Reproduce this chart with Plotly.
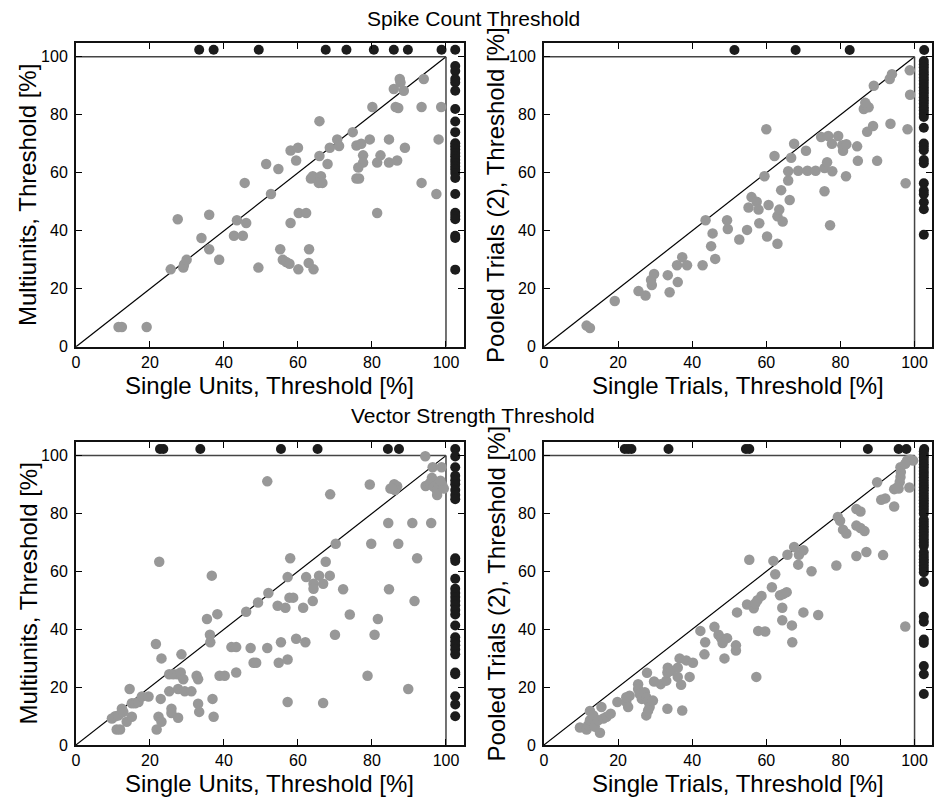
import plotly.graph_objects as go

# ---------------- data ----------------
# Panel A: Spike count, Single Units (x) vs Multiunits (y)
a_x = [11.5, 12.4, 19.1, 25.6, 27.5, 29.0, 29.2, 29.9, 33.9, 36.0, 36.0, 38.7, 42.7, 43.5, 45.1, 46.0,
       45.6, 49.3, 51.4, 52.7, 54.7, 55.2, 55.9, 56.8, 57.7, 58.0, 60.0, 59.5, 58.0, 60.2, 62.2, 60.1,
       63.0, 62.9, 64.2, 63.5, 64.0, 66.2, 65.6, 66.6, 65.8, 65.8, 68.0, 68.6, 70.6, 71.1, 74.8, 75.8,
       77.1, 77.6, 77.6, 76.3, 75.8, 76.5, 79.4, 80.1, 81.4, 82.3, 81.4, 84.6, 84.6, 85.9, 86.4, 87.1,
       86.8, 87.5, 87.7, 88.6, 88.9, 93.4, 94.0, 93.4, 97.4, 98.0, 98.7]
a_y = [6.8, 6.8, 6.8, 26.7, 44.0, 27.3, 28.4, 30.0, 37.5, 45.5, 33.6, 30.0, 38.3, 43.6, 38.3, 42.7,
       56.5, 27.3, 63.0, 52.7, 61.3, 33.6, 30.0, 29.2, 28.6, 67.7, 68.6, 64.2, 42.7, 46.1, 46.1, 26.7,
       33.6, 28.9, 26.7, 58.0, 58.8, 58.8, 56.5, 56.5, 77.8, 65.8, 63.0, 68.6, 71.5, 69.2, 74.0, 69.4,
       70.0, 66.0, 63.5, 61.8, 58.0, 58.0, 71.5, 82.7, 63.5, 66.0, 46.1, 71.5, 63.5, 88.9, 82.7, 82.3,
       64.2, 92.3, 91.1, 88.3, 68.6, 82.7, 92.3, 56.5, 52.7, 71.5, 82.7]
a_top_x = [33.3, 37.2, 49.4, 67.5, 73.1, 80.5, 85.9, 89.7, 98.8, 102.5]
a_top_y = [102.4, 102.4, 102.4, 102.4, 102.4, 102.4, 102.4, 102.4, 102.4, 102.4]
a_side_y = [96.8, 95.1, 92.3, 91.1, 88.3, 82.0, 77.7, 74.0, 70.2, 69.1, 68.0, 66.8, 65.7, 64.5,
            63.4, 62.2, 61.1, 59.9, 58.2, 52.7, 46.2, 45.1, 44.0, 38.3, 37.5, 26.6]

# Panel B: Spike count, Single Trials (x) vs Pooled Trials (2) (y)
b_x = [11.5, 12.4, 19.1, 25.5, 27.4, 29.1, 28.9, 29.7, 33.4, 33.9, 36.1, 35.9, 37.3, 38.6, 42.8, 43.6,
       45.1, 45.5, 46.2, 49.4, 49.6, 52.7, 54.8, 55.2, 56.0, 57.4, 57.9, 58.1, 59.5, 60.0, 60.6, 60.2,
       62.2, 63.0, 63.5, 64.4, 63.0, 64.0, 66.3, 65.9, 65.9, 66.7, 67.5, 68.6, 70.7, 71.1, 73.3, 74.8,
       76.7, 75.7, 76.4, 77.7, 77.8, 75.7, 77.2, 79.4, 80.5, 80.7, 81.6, 81.5, 84.5, 84.7, 86.3, 87.0,
       87.6, 86.7, 87.2, 88.8, 89.9, 89.0, 93.3, 93.9, 93.5, 98.1, 97.6, 98.7, 98.8]
b_y = [7.3, 6.5, 15.8, 19.2, 17.7, 21.3, 23.0, 25.1, 24.7, 18.8, 22.3, 28.1, 30.9, 28.1, 28.1, 43.6,
       34.7, 39.1, 30.3, 43.6, 40.6, 37.0, 40.3, 48.0, 51.6, 50.0, 47.3, 42.6, 58.8, 75.0, 48.9, 38.0,
       65.8, 45.0, 47.3, 43.2, 35.5, 54.0, 50.6, 57.3, 60.5, 65.2, 70.0, 60.7, 67.6, 60.7, 60.7, 72.3,
       72.7, 61.6, 63.6, 70.0, 60.5, 53.6, 41.9, 72.7, 69.5, 67.6, 69.8, 58.8, 69.1, 64.1, 82.0, 83.2,
       82.6, 84.1, 74.1, 76.1, 64.1, 90.0, 92.3, 94.0, 76.9, 75.0, 56.4, 95.3, 86.9]
b_top_x = [51.4, 67.9, 82.5, 102.6]
b_top_y = [102.3, 102.3, 102.3, 102.3]
b_side_y = [98.5, 97.4, 96.3, 95.1, 94.0, 92.8, 91.7, 90.6, 89.4, 88.3, 87.2, 86.0, 84.9, 83.8, 82.6,
            81.5, 80.3, 79.2, 75.5, 70.1, 69.0, 67.8, 64.4, 63.3, 56.4, 53.8, 52.6, 49.8, 47.4, 38.6]

# Panel C: Vector strength, Single Units (x) vs Multiunits (y)
c_x = [9.7, 10.6, 11.5, 12.4, 12.8, 11.0, 11.9, 13.7, 15.1, 14.5, 15.1, 16.0, 16.9, 17.8, 19.6, 21.6,
       22.5, 23.1, 22.9, 22.3, 23.1, 21.8, 25.2, 26.3, 27.4, 28.5, 28.3, 29.0, 25.2, 27.6, 29.4, 31.2,
       25.8, 25.8, 27.6, 32.6, 33.0, 33.0, 33.3, 35.4, 36.2, 36.3, 36.7, 38.2, 36.9, 37.2, 38.8, 40.2,
       42.0, 43.3, 43.3, 46.0, 47.2, 48.0, 48.7, 49.2, 51.7, 51.7, 52.0, 54.5, 56.6, 54.8, 55.4, 57.2,
       57.2, 57.2, 57.9, 57.7, 58.7, 59.5, 61.4, 62.0, 62.2, 64.0, 64.2, 64.2, 65.7, 66.8, 66.8, 67.5,
       68.7, 68.6, 70.0, 70.2, 72.2, 74.0, 78.8, 79.4, 79.8, 80.7, 81.6, 84.4, 84.6, 85.0, 86.0, 86.8,
       86.2, 85.5, 87.1, 89.8, 90.9, 91.5, 92.2, 94.4, 94.5, 95.4, 96.2, 95.8, 96.7, 97.6, 97.6, 98.0,
       99.0, 99.4, 98.5, 96.4, 98.8, 96.0]
c_y = [9.1, 9.9, 10.2, 12.5, 11.4, 5.3, 5.3, 8.0, 9.7, 19.3, 14.4, 14.4, 14.8, 16.7, 16.7, 34.9,
       63.3, 29.9, 15.9, 9.7, 8.0, 5.3, 24.4, 24.4, 24.4, 31.3, 25.0, 22.7, 18.5, 19.3, 18.5, 18.5,
       12.5, 11.0, 9.4, 23.9, 22.7, 14.2, 11.4, 43.5, 38.1, 35.5, 58.5, 45.2, 15.9, 9.7, 23.9, 23.9,
       33.8, 33.8, 25.0, 46.0, 33.5, 28.4, 28.4, 49.2, 91.1, 33.5, 52.5, 48.1, 47.4, 28.4, 35.5, 58.0,
       29.5, 14.8, 64.5, 50.9, 50.9, 36.7, 47.4, 35.5, 58.0, 49.7, 55.7, 54.0, 58.5, 55.7, 14.5, 63.3,
       86.6, 58.5, 38.1, 69.5, 53.8, 45.1, 23.9, 90.0, 69.5, 38.1, 43.5, 76.7, 53.8, 88.6, 90.1, 89.4,
       88.1, 88.6, 69.5, 19.3, 76.7, 49.7, 64.5, 99.8, 89.5, 90.0, 92.3, 90.7, 89.2, 87.8, 86.4, 90.3,
       89.8, 88.6, 91.3, 96.0, 96.0, 76.7]
c_top_x = [22.7, 23.6, 33.6, 55.4, 65.3, 84.3, 87.3, 102.5]
c_top_y = [102.3, 102.3, 102.3, 102.3, 102.3, 102.3, 102.3, 102.3]
c_side_y = [99.7, 96.0, 93.0, 91.5, 90.1, 88.1, 86.4, 84.9, 64.5, 63.6, 57.4, 54.0, 52.5, 51.1, 49.7,
            48.3, 46.6, 45.1, 41.3, 37.2, 35.8, 34.4, 33.0, 31.3, 25.0, 24.4, 16.8, 14.0, 9.9]

# Panel D: Vector strength, Single Trials (x) vs Pooled Trials (2) (y)
d_x = [9.7, 11.5, 11.9, 12.4, 12.4, 13.3, 13.7, 14.6, 15.1, 15.5, 16.0, 16.9, 18.0, 19.8, 22.2, 22.7,
       23.1, 22.2, 25.4, 25.4, 25.8, 26.4, 27.2, 27.6, 28.1, 28.5, 27.6, 28.1, 29.4, 27.8, 29.7, 31.5,
       33.0, 33.3, 33.4, 34.3, 36.1, 36.6, 36.1, 37.0, 38.4, 40.2, 39.3, 33.3, 37.3, 42.2, 43.5, 43.3,
       46.0, 47.1, 47.8, 48.2, 49.4, 48.7, 51.8, 51.8, 52.1, 54.8, 56.6, 57.0, 57.6, 58.7, 55.4, 57.3,
       57.8, 59.7, 61.5, 61.9, 62.4, 63.7, 64.6, 65.5, 64.3, 64.3, 66.9, 67.0, 65.7, 67.5, 68.6, 68.8,
       70.0, 70.0, 72.2, 74.0, 78.9, 79.3, 79.9, 80.7, 81.6, 84.3, 85.4, 84.3, 85.4, 86.5, 84.3, 87.0,
       89.9, 91.0, 92.1, 91.5, 94.5, 94.5, 95.7, 96.2, 96.3, 96.2, 96.0, 95.3, 98.0, 98.8, 99.6, 97.5,
       98.6, 97.5]
d_y = [6.0, 5.3, 6.8, 8.5, 11.7, 10.2, 6.3, 8.5, 4.2, 13.1, 9.1, 9.7, 10.8, 14.8, 14.8, 13.1,
       17.0, 16.5, 21.0, 19.3, 17.6, 15.9, 18.2, 16.5, 15.1, 13.1, 10.2, 11.9, 15.3, 24.9, 21.9, 21.0,
       22.2, 25.0, 26.7, 25.6, 26.7, 29.9, 23.5, 20.8, 29.2, 28.4, 23.5, 12.5, 11.9, 39.4, 35.5, 31.3,
       40.8, 38.1, 36.9, 35.2, 36.9, 29.9, 34.4, 32.6, 45.8, 48.5, 47.2, 48.9, 50.0, 51.5, 64.0, 23.5,
       39.4, 39.2, 54.5, 63.6, 59.0, 51.7, 52.2, 52.8, 47.4, 43.1, 41.3, 35.5, 65.7, 68.4, 62.3, 65.7,
       67.3, 45.8, 60.0, 44.9, 62.0, 78.8, 77.5, 74.4, 73.1, 81.5, 80.7, 75.8, 75.0, 73.9, 65.3, 66.7,
       90.8, 84.7, 85.2, 65.6, 82.4, 88.4, 88.6, 96.0, 94.3, 92.6, 90.9, 89.0, 98.3, 98.6, 98.3, 97.2,
       89.0, 40.9]
d_top_x = [21.8, 22.7, 23.6, 33.6, 54.5, 55.4, 87.4, 95.7, 97.8, 102.6]
d_top_y = [102.3, 102.3, 102.3, 102.3, 102.3, 102.3, 102.3, 102.3, 102.3, 102.3]
d_side_y = [101.5, 100.4, 99.3, 98.1, 97.0, 95.9, 94.7, 93.6, 92.5, 91.3, 90.2, 89.1, 88.0, 86.8,
            85.7, 84.6, 83.4, 82.3, 81.2, 80.0, 77.8, 76.7, 75.6, 74.4, 73.3, 72.2, 71.0, 69.9, 68.8,
            66.5, 65.3, 64.2, 63.1, 61.9, 60.8, 59.7, 56.3, 44.3, 42.6, 36.4, 35.2, 27.3, 24.4, 17.6]

OFF = 102.5  # position of "no threshold" markers (outside 0-100 box)

tick_vals = [0, 20, 40, 60, 80, 100]
tick_text = ["0", "20", "40", "60", "80", "100"]

titles = ["Spike Count Threshold", "Vector Strength Threshold"]
x_titles = ["Single Units, Threshold [%]", "Single Trials, Threshold [%]"]
y_titles = ["Multiunits, Threshold [%]", "Pooled Trials (2), Threshold [%]"]

# ---------------- figure ----------------
W, H = 942, 806
GRAY = "#989898"
DARK = "#1c1c1c"
FONT = "Liberation Sans, Arial, sans-serif"

# pixel boxes of the four plot areas: (left, right, top, bottom)
boxes = [(72.3, 461.7, 43.3, 350.7), (542.3, 932.3, 43.3, 350.7),
         (72.3, 461.7, 446.7, 753.3), (542.3, 932.3, 446.7, 753.3)]

panels = [
    (a_x, a_y, a_top_x, a_top_y, a_side_y),
    (b_x, b_y, b_top_x, b_top_y, b_side_y),
    (c_x, c_y, c_top_x, c_top_y, c_side_y),
    (d_x, d_y, d_top_x, d_top_y, d_side_y),
]

fig = go.Figure()
layout = dict(width=W, height=H, margin=dict(l=0, r=0, t=0, b=0),
              paper_bgcolor="white", plot_bgcolor="white", showlegend=False,
              font=dict(family=FONT, color="black"))
shapes = []
annotations = []

for i, (px, py, tx, ty, sy) in enumerate(panels):
    n = i + 1
    xa = "x" if n == 1 else f"x{n}"
    ya = "y" if n == 1 else f"y{n}"
    l, r, t, b = boxes[i]
    axis_common = dict(range=[0, 104.8], tickvals=tick_vals, ticktext=tick_text,
                       ticks="inside", ticklen=6, tickwidth=1, tickcolor="black",
                       showline=True, linecolor="#111111", linewidth=2, mirror="ticks",
                       showgrid=False, zeroline=False, fixedrange=True,
                       tickfont=dict(family=FONT, size=16, color="black"))
    layout["xaxis" if n == 1 else f"xaxis{n}"] = dict(axis_common, domain=[l / W, r / W],
                                                      anchor=ya)
    layout["yaxis" if n == 1 else f"yaxis{n}"] = dict(axis_common, domain=[1 - b / H, 1 - t / H],
                                                      anchor=xa, ticklabelstandoff=3)
    # reference lines: diagonal, 100% limits
    for (x0, y0, x1, y1, col, w) in [(0, 0, 100, 100, "black", 1.2),
                                     (0, 100, 100, 100, "#444444", 1.5),
                                     (100, 0, 100, 100, "#444444", 1.5)]:
        shapes.append(dict(type="line", xref=xa, yref=ya, x0=x0, y0=y0, x1=x1, y1=y1,
                           line=dict(color=col, width=w), layer="below"))
    fig.add_trace(go.Scatter(x=px, y=py, mode="markers", xaxis=xa, yaxis=ya,
                             marker=dict(size=10.5, color=GRAY, line=dict(width=0)),
                             cliponaxis=False))
    fig.add_trace(go.Scatter(x=tx, y=ty, mode="markers", xaxis=xa, yaxis=ya,
                             marker=dict(size=10, color=DARK, line=dict(width=0)),
                             cliponaxis=False))
    fig.add_trace(go.Scatter(x=[OFF] * len(sy), y=sy, mode="markers", xaxis=xa, yaxis=ya,
                             marker=dict(size=10, color=DARK, line=dict(width=0)),
                             cliponaxis=False))
    # axis titles (anchored at the top so they sit just under the tick labels)
    col = i % 2
    annotations.append(dict(text=x_titles[col], xref="paper", yref="paper",
                            x=(l + r) / 2 / W, y=1 - (b + 24) / H, xanchor="center",
                            yanchor="top", showarrow=False, borderpad=0,
                            font=dict(family=FONT, size=24, color="black")))
    annotations.append(dict(text=y_titles[col], xref="paper", yref="paper",
                            x=(l - 48) / W, y=1 - (t + b) / 2 / H, xanchor="center",
                            yanchor="middle", textangle=-90, showarrow=False,
                            font=dict(family=FONT, size=24, color="black")))

for k, ty in enumerate([19, 420]):
    annotations.append(dict(text=titles[k], xref="paper", yref="paper", x=471 / W,
                            y=1 - ty / H, xanchor="center", yanchor="middle",
                            showarrow=False, font=dict(family=FONT, size=21, color="black")))

layout["shapes"] = shapes
layout["annotations"] = annotations
fig.update_layout(**layout)
fig.write_html("out.html")
